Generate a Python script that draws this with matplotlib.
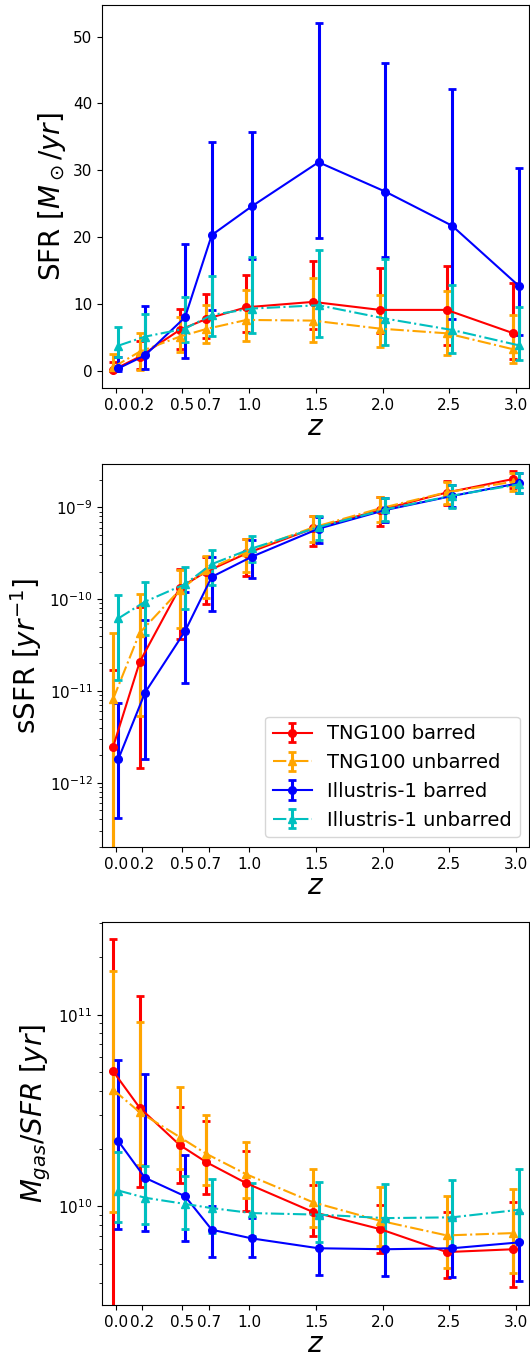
import matplotlib
matplotlib.use('Agg')
import matplotlib.pyplot as plt
import numpy as np

z = np.array([0.0, 0.2, 0.5, 0.7, 1.0, 1.5, 2.0, 2.5, 3.0])
z_labels = ['0.0', '0.2', '0.5', '0.7', '1.0', '1.5', '2.0', '2.5', '3.0']
names = ['TNG100 barred', 'TNG100 unbarred', 'Illustris-1 barred', 'Illustris-1 unbarred']

# SFR [Msun/yr]: median, lower, upper
sfr_tng_bar = [0.1, 2.1, 6.1, 7.75, 9.5, 10.3, 9.1, 9.1, 5.6]
sfr_tng_bar_lo = [0.0, 0.2, 3.3, 4.85, 5.8, 6.2, 5.6, 3.9, 1.7]
sfr_tng_bar_hi = [1.35, 4.5, 9.3, 11.5, 14.3, 16.4, 15.4, 15.6, 13.1]
sfr_tng_unbar = [0.5, 2.85, 5.1, 6.25, 7.6, 7.5, 6.3, 5.6, 3.2]
sfr_tng_unbar_lo = [0.0, 0.1, 2.75, 4.1, 4.5, 4.3, 3.6, 2.3, 1.1]
sfr_tng_unbar_hi = [2.5, 5.6, 8.1, 9.8, 12.1, 13.9, 11.4, 12.0, 8.3]
sfr_ill_bar = [0.35, 2.3, 8.0, 20.3, 24.6, 31.2, 26.8, 21.7, 12.7]
sfr_ill_bar_lo = [0.0, 0.25, 1.85, 9.1, 16.7, 19.9, 17.0, 7.7, 5.3]
sfr_ill_bar_hi = [2.0, 9.7, 18.9, 34.2, 35.7, 52.1, 46.0, 42.1, 30.4]
sfr_ill_unbar = [3.75, 5.1, 6.3, 8.35, 9.3, 9.8, 7.8, 6.1, 3.8]
sfr_ill_unbar_lo = [2.0, 2.6, 4.35, 5.25, 5.7, 5.1, 3.8, 2.7, 1.6]
sfr_ill_unbar_hi = [6.5, 8.45, 11.1, 14.1, 17.0, 18.0, 16.7, 12.9, 9.5]

# sSFR [1/yr]
ssfr_tng_bar = [2.44e-12, 2.07e-11, 1.33e-10, 2.0e-10, 3.15e-10, 5.9e-10, 9.35e-10, 1.45e-9, 2.04e-9]
ssfr_tng_bar_lo = [1e-14, 1.46e-12, 3.73e-11, 8.85e-11, 1.8e-10, 3.82e-10, 6.3e-10, 1.06e-9, 1.61e-9]
ssfr_tng_bar_hi = [1.69e-11, 8.3e-11, 2.13e-10, 2.85e-10, 4.48e-10, 8.1e-10, 1.31e-9, 1.95e-9, 2.51e-9]
ssfr_tng_unbar = [8.1e-12, 4.3e-11, 1.26e-10, 2.07e-10, 3.29e-10, 6.05e-10, 9.75e-10, 1.46e-9, 1.9e-9]
ssfr_tng_unbar_lo = [1e-14, 5.3e-12, 4.8e-11, 1.02e-10, 1.99e-10, 4.22e-10, 7.0e-10, 1.09e-9, 1.52e-9]
ssfr_tng_unbar_hi = [4.24e-11, 1.14e-10, 2.1e-10, 2.95e-10, 4.48e-10, 8.1e-10, 1.31e-9, 1.87e-9, 2.35e-9]
ssfr_ill_bar = [1.81e-12, 9.6e-12, 4.49e-11, 1.75e-10, 2.9e-10, 5.86e-10, 9.35e-10, 1.33e-9, 1.83e-9]
ssfr_ill_bar_lo = [4.15e-13, 1.81e-12, 1.21e-11, 7.5e-11, 1.72e-10, 4.06e-10, 7.0e-10, 1.0e-9, 1.42e-9]
ssfr_ill_bar_hi = [7.4e-12, 5.9e-11, 1.2e-10, 2.9e-10, 4.4e-10, 7.8e-10, 1.25e-9, 1.75e-9, 2.39e-9]
ssfr_ill_unbar = [6.17e-11, 9.4e-11, 1.46e-10, 2.41e-10, 3.57e-10, 6.1e-10, 9.5e-10, 1.34e-9, 1.78e-9]
ssfr_ill_unbar_lo = [1.31e-11, 4.07e-11, 7.9e-11, 1.43e-10, 2.52e-10, 4.4e-10, 7.15e-10, 9.75e-10, 1.44e-9]
ssfr_ill_unbar_hi = [1.11e-10, 1.55e-10, 2.22e-10, 3.43e-10, 4.91e-10, 8.1e-10, 1.27e-9, 1.75e-9, 2.39e-9]

# Mgas/SFR [yr]
tdep_tng_bar = [5.08e10, 3.27e10, 2.09e10, 1.7e10, 1.32e10, 9.34e9, 7.62e9, 5.78e9, 5.98e9]
tdep_tng_bar_lo = [1e8, 1.27e10, 1.33e10, 1.16e10, 9.5e9, 7.03e9, 5.7e9, 4.23e9, 3.79e9]
tdep_tng_bar_hi = [2.49e11, 1.25e11, 3.3e10, 2.8e10, 1.95e10, 1.3e10, 1.02e10, 9.3e9, 1.06e10]
tdep_tng_unbar = [4.07e10, 3.1e10, 2.3e10, 1.88e10, 1.47e10, 1.05e10, 8.42e9, 7.06e9, 7.26e9]
tdep_tng_unbar_lo = [9.4e9, 1.65e10, 1.56e10, 1.3e10, 1.1e10, 7.8e9, 6.22e9, 4.8e9, 4.52e9]
tdep_tng_unbar_hi = [1.68e11, 9.18e10, 4.2e10, 3.01e10, 2.16e10, 1.56e10, 1.26e10, 1.14e10, 1.24e10]
tdep_ill_bar = [2.19e10, 1.41e10, 1.13e10, 7.56e9, 6.81e9, 6.05e9, 5.98e9, 6.05e9, 6.49e9]
tdep_ill_bar_lo = [7.64e9, 7.4e9, 6.64e9, 5.43e9, 5.43e9, 4.4e9, 4.34e9, 4.28e9, 4.1e9]
tdep_ill_bar_hi = [5.8e10, 4.93e10, 1.85e10, 1.0e10, 8.7e9, 8.8e9, 8.6e9, 8.7e9, 9.23e9]
tdep_ill_unbar = [1.21e10, 1.11e10, 1.03e10, 9.8e9, 9.23e9, 9.06e9, 8.69e9, 8.77e9, 9.6e9]
tdep_ill_unbar_lo = [8.25e9, 8.11e9, 7.64e9, 7.3e9, 7.0e9, 6.49e9, 6.0e9, 6.2e9, 6.6e9]
tdep_ill_unbar_hi = [1.92e10, 1.62e10, 1.44e10, 1.39e10, 1.33e10, 1.34e10, 1.31e10, 1.38e10, 1.57e10]

styles = [
    dict(color='red', fmt='o-', dz=-0.02),
    dict(color='orange', fmt='^-.', dz=-0.02),
    dict(color='blue', fmt='o-', dz=0.02),
    dict(color='c', fmt='^-.', dz=0.02),
]

panels = [
    dict(data=[(sfr_tng_bar, sfr_tng_bar_lo, sfr_tng_bar_hi),
               (sfr_tng_unbar, sfr_tng_unbar_lo, sfr_tng_unbar_hi),
               (sfr_ill_bar, sfr_ill_bar_lo, sfr_ill_bar_hi),
               (sfr_ill_unbar, sfr_ill_unbar_lo, sfr_ill_unbar_hi)],
         ylabel=r'SFR [$M_\odot/yr$]', log=False, ylim=(-2.6, 54.7)),
    dict(data=[(ssfr_tng_bar, ssfr_tng_bar_lo, ssfr_tng_bar_hi),
               (ssfr_tng_unbar, ssfr_tng_unbar_lo, ssfr_tng_unbar_hi),
               (ssfr_ill_bar, ssfr_ill_bar_lo, ssfr_ill_bar_hi),
               (ssfr_ill_unbar, ssfr_ill_unbar_lo, ssfr_ill_unbar_hi)],
         ylabel=r'sSFR [$yr^{-1}$]', log=True, ylim=(2.0e-13, 2.96e-9)),
    dict(data=[(tdep_tng_bar, tdep_tng_bar_lo, tdep_tng_bar_hi),
               (tdep_tng_unbar, tdep_tng_unbar_lo, tdep_tng_unbar_hi),
               (tdep_ill_bar, tdep_ill_bar_lo, tdep_ill_bar_hi),
               (tdep_ill_unbar, tdep_ill_unbar_lo, tdep_ill_unbar_hi)],
         ylabel=r'$M_{gas}/SFR$ [$yr$]', log=True, ylim=(3.06e9, 3.04e11)),
]

fig = plt.figure(figsize=(5.3, 13.57), dpi=100)
bottoms = [0.714, 0.3758, 0.0383]

for p, bot in zip(panels, bottoms):
    ax = fig.add_axes([0.193, bot, 0.806, 0.2822])
    for (y, lo, hi), st, name in zip(p['data'], styles, names):
        y = np.array(y)
        err = [y - np.array(lo), np.array(hi) - y]
        ax.errorbar(z + st['dz'], y, yerr=err, fmt=st['fmt'], color=st['color'],
                    lw=1.5, elinewidth=2.2, capsize=3, capthick=2, ms=5.5, label=name)
    if p['log']:
        ax.set_yscale('log')
    ax.set_ylim(*p['ylim'])
    ax.set_xlim(-0.1, 3.1)
    ax.set_xticks(z)
    ax.set_xticklabels(z_labels)
    ax.set_xlabel('$z$', fontsize=20, labelpad=0)
    ax.set_ylabel(p['ylabel'], fontsize=20)
    ax.tick_params(labelsize=11)
    if p['ylabel'].startswith('sSFR'):
        ax.legend(loc='lower right', fontsize=14)

fig.savefig('out.png', dpi=100)
